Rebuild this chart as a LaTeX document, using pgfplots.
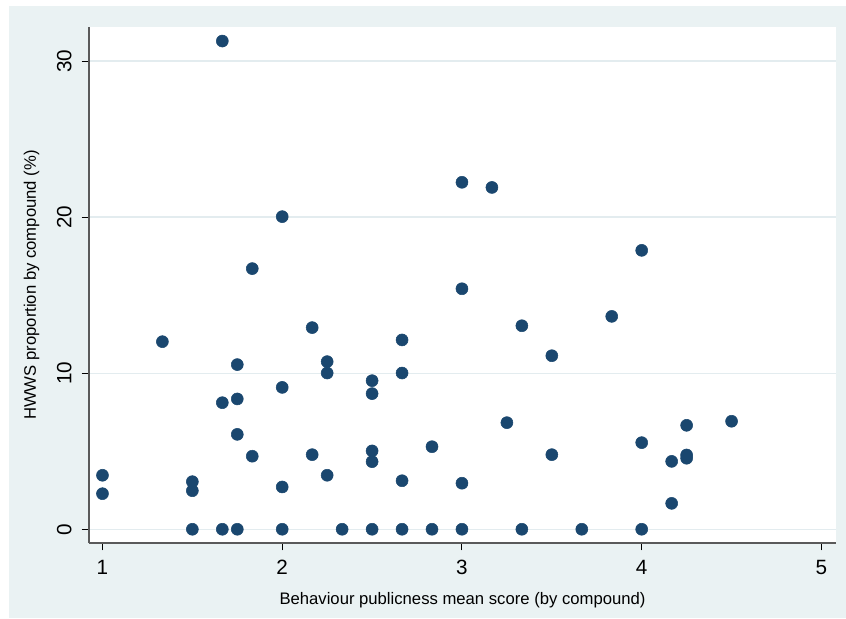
\documentclass[border=0pt]{standalone}
\usepackage{pgfplots}
\pgfplotsset{compat=1.18}
\usepackage{fontspec}
\setmainfont{Liberation Sans}
\definecolor{stbg}{HTML}{EAF2F3}
\definecolor{stgrid}{HTML}{E3ECEF}
\definecolor{stnavy}{HTML}{1A476F}
\definecolor{staxis}{HTML}{5A5A5A}
\begin{document}
\begin{tikzpicture}
\fill[white] (-66.75pt,-56.25pt) rectangle (567.75pt,407.25pt);
\fill[stbg] (-60pt,-56.25pt) rectangle (567.75pt,402.75pt);
\begin{axis}[
  scale only axis,
  width=560.25pt, height=387pt,
  at={(0,0)}, anchor=south west,
  xmin=0.925, xmax=5.081,
  ymin=-0.88, ymax=32.18,
  axis x line*=bottom, axis y line*=left,
  axis line style={staxis, line width=0.9pt, -},
  axis background/.style={fill=white},
  xtick={1,2,3,4,5}, ytick={0,10,20,30},
  tick align=outside,
  major tick length=5.5pt,
  tick style={black, line width=0.75pt},
  ymajorgrids, xmajorgrids=false,
  grid style={stgrid, line width=1pt},
  /pgf/number format/assume math mode=true,
  ticklabel style={font=\fontsize{15.5}{18}\selectfont},
  yticklabel style={rotate=90, anchor=south},
  xticklabel shift=4pt,
  yticklabel shift=4pt,
  xlabel={Behaviour publicness mean score (by compound)},
  ylabel={HWWS proportion by compound (\%)},
  every axis x label/.style={at={(axis description cs:0.5,-0.1105)}, anchor=center, font=\fontsize{12.5}{15}\selectfont},
  every axis y label/.style={at={(axis description cs:-0.077,0.5)}, rotate=90, anchor=center, font=\fontsize{12.5}{15}\selectfont},
  clip=false,
]
\addplot[only marks, mark=*, mark size=4.5pt, mark options={fill=stnavy, draw=stnavy}] table {
x y
1 3.46
1 2.28
1.3333 12.02
1.5 3.05
1.5 2.47
1.5 0
1.6667 31.28
1.6667 8.11
1.6667 0
1.75 10.55
1.75 8.35
1.75 6.08
1.75 0
1.8333 16.7
1.8333 4.68
2 20.03
2 9.09
2 2.71
2 0
2.1667 12.92
2.1667 4.78
2.25 10.74
2.25 10.01
2.25 3.46
2.3333 0
2.5 9.52
2.5 8.69
2.5 5.02
2.5 4.33
2.5 0
2.6667 12.13
2.6667 10.01
2.6667 3.11
2.6667 0
2.8333 5.29
2.8333 0
3 22.23
3 15.41
3 2.95
3 0
3.1667 21.9
3.25 6.83
3.3333 13.04
3.3333 0
3.5 11.12
3.5 4.78
3.6667 0
3.8333 13.64
4 17.87
4 5.55
4 0
4.1667 4.35
4.1667 1.66
4.25 6.66
4.25 4.76
4.25 4.55
4.5 6.92
};
\end{axis}
\end{tikzpicture}
\end{document}
